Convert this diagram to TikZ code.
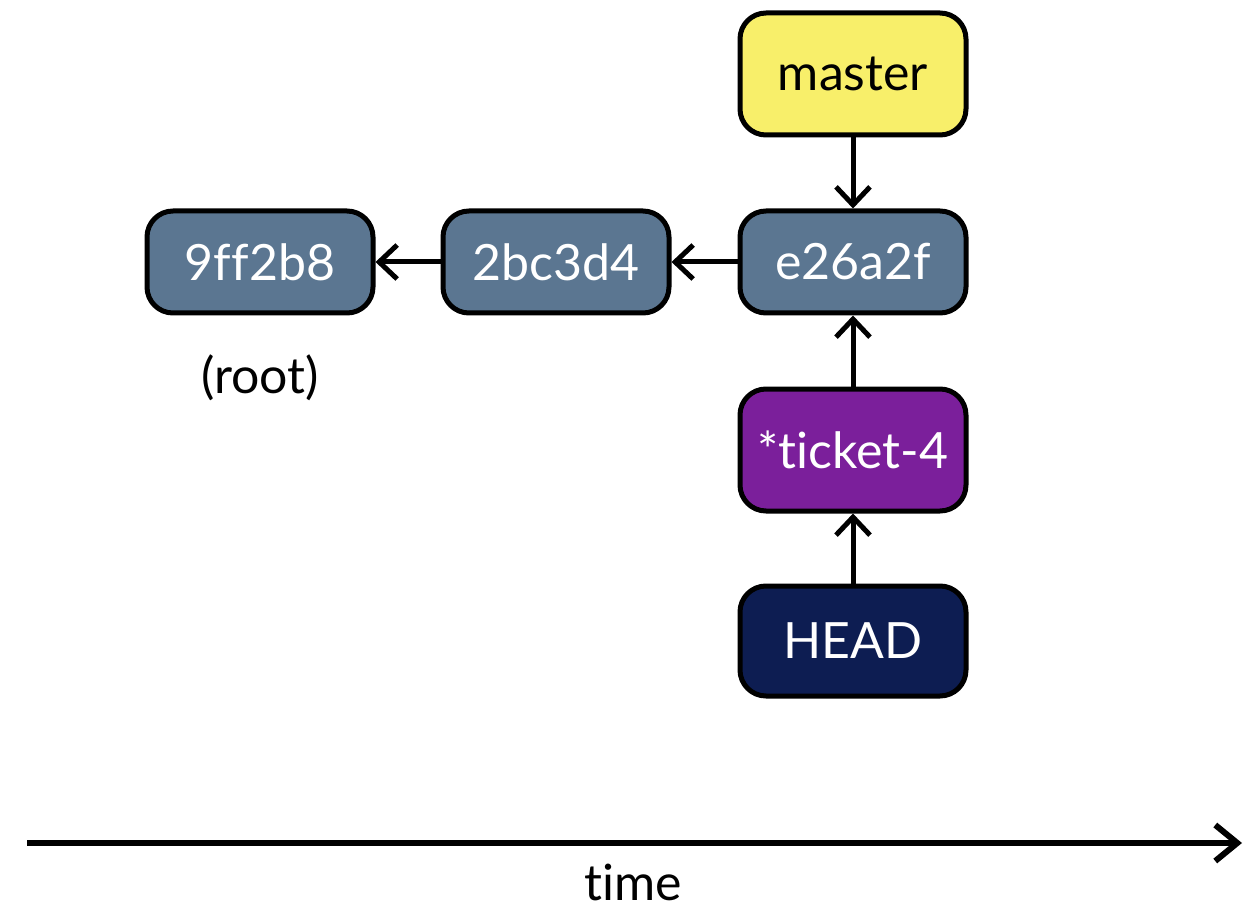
\documentclass[tikz,border=0pt]{standalone}
\usepackage{fontspec}
\setmainfont[Ligatures={NoCommon,NoDiscretionary,NoRare}]{Lato}
\usetikzlibrary{arrows.meta}
\definecolor{commitc}{HTML}{5B7691}
\definecolor{masterc}{HTML}{F8EF6A}
\definecolor{ticketc}{HTML}{7B1F9B}
\definecolor{headc}{HTML}{0D1D52}
\begin{document}
\begin{tikzpicture}[x=1pt,y=-1pt,
  box/.style={draw=black, line width=5pt, rounded corners=26pt, minimum width=226pt, inner sep=0pt,
    font=\fontsize{50}{60}\selectfont},
  commit/.style={box, fill=commitc, text=white, minimum height=102pt},
  link/.style={line width=5pt, -{Straight Barb[length=18pt,width=34pt,line width=5pt]}},
  lbl/.style={font=\fontsize{50}{60}\selectfont, text=black}]
\useasboundingbox (0,0) rectangle (1253,909);
\node[commit] (c1) at (260,262) {9ff2b8};
\node[commit] (c2) at (556,262) {2bc3d4};
\node[commit] (c3) at (853,262) {e26a2f};
\node[box, fill=masterc, text=black, minimum height=122pt] (master) at (853,74) {master};
\node[box, fill=ticketc, text=white, minimum height=122pt] (ticket) at (853,450) {*ticket-4};
\node[box, fill=headc, text=white, minimum height=110pt] (head) at (853,641) {HEAD};
\node[lbl] (root) at (260,378) {(root)};
\draw[link] (c2) -- (c1);
\draw[link] (c3) -- (c2);
\draw[link] (master) -- (c3);
\draw[link] (ticket) -- (c3);
\draw[link] (head) -- (ticket);
\coordinate (t0) at (27,843);
\coordinate (t1) at (1242,843);
\draw[line width=6pt, -{Straight Barb[length=22pt,width=36pt,line width=6pt]}] (t0) -- (t1);
\node[lbl] (time) at (633,882) {time};
\end{tikzpicture}
\end{document}
